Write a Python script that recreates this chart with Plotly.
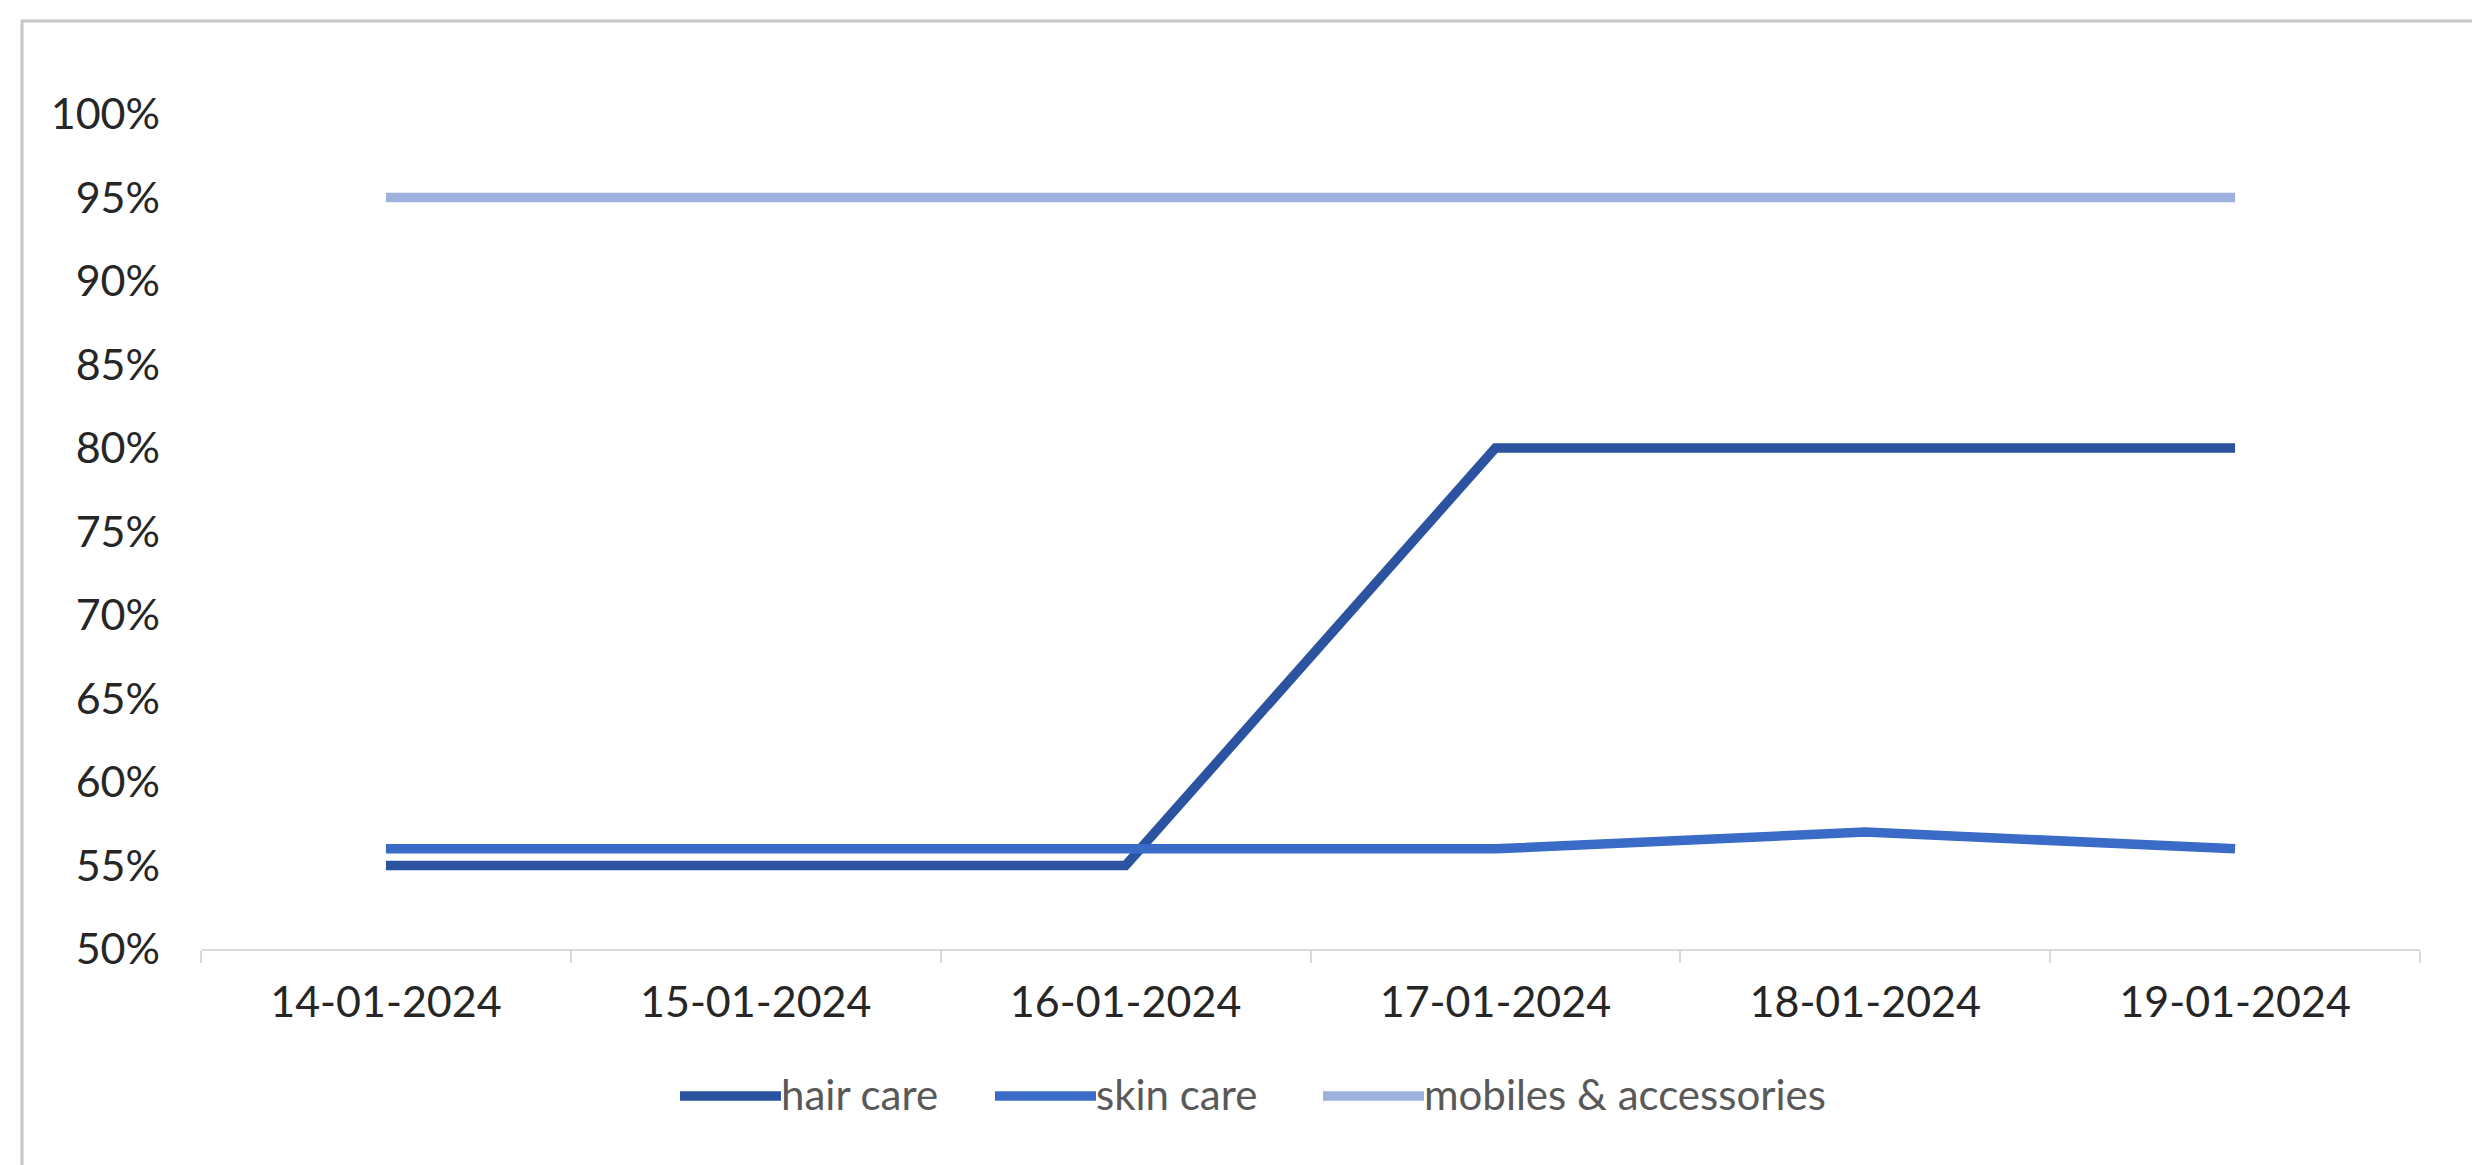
import plotly.graph_objects as go

dates = ["14-01-2024", "15-01-2024", "16-01-2024", "17-01-2024", "18-01-2024", "19-01-2024"]
hair_care = [0.55, 0.55, 0.55, 0.80, 0.80, 0.80]
skin_care = [0.56, 0.56, 0.56, 0.56, 0.57, 0.56]
mobiles_accessories = [0.95, 0.95, 0.95, 0.95, 0.95, 0.95]
y_ticks = [0.50, 0.55, 0.60, 0.65, 0.70, 0.75, 0.80, 0.85, 0.90, 0.95, 1.00]

series_names = ["hair care", "skin care", "mobiles & accessories"]
series_values = [hair_care, skin_care, mobiles_accessories]
series_colors = ["#2C539F", "#3A6BC7", "#9EB1DF"]

FONT = "Lato, 'Noto Sans', 'Liberation Sans', sans-serif"

W, H = 2480, 1165
L, R, T, B = 193, 68, 106, 224
ph = H - T - B
pw = W - L - R


def px_to_paper_x(px):
    return (px - L) / pw


def px_to_paper_y(py):
    return (H - B - py) / ph


fig = go.Figure()
for name, vals, color in zip(series_names, series_values, series_colors):
    fig.add_trace(go.Scatter(
        x=dates, y=vals, name=name, mode="lines",
        line=dict(color=color, width=9.5),
        showlegend=False,
    ))

# Custom legend (long line samples, as in the reference)
legend_y_px = 1088
legend_items_px = [(672, 773, 771), (987, 1088, 1086), (1315, 1416, 1414)]
shapes = []
annotations = []
for (lx0, lx1, tx), name, color in zip(legend_items_px, series_names, series_colors):
    shapes.append(dict(
        type="line", xref="paper", yref="paper",
        x0=px_to_paper_x(lx0), x1=px_to_paper_x(lx1),
        y0=px_to_paper_y(legend_y_px), y1=px_to_paper_y(legend_y_px),
        line=dict(color=color, width=9.5),
    ))
    annotations.append(dict(
        text=name, xref="paper", yref="paper",
        x=px_to_paper_x(tx), y=px_to_paper_y(legend_y_px - 2),
        xanchor="left", yanchor="middle", showarrow=False,
        font=dict(family=FONT, size=42, color="#595959"),
    ))

# outer chart frame
shapes.append(dict(
    type="rect", xref="paper", yref="paper",
    x0=px_to_paper_x(14), x1=px_to_paper_x(2473),
    y0=px_to_paper_y(1185), y1=px_to_paper_y(13),
    line=dict(color="#C6C6C6", width=3), fillcolor="rgba(0,0,0,0)",
    layer="below",
))

fig.update_layout(
    width=W, height=H,
    margin=dict(l=L, r=R, t=T, b=B, pad=0),
    paper_bgcolor="white", plot_bgcolor="white",
    font=dict(family=FONT, size=43, color="#262626"),
    showlegend=False,
    xaxis=dict(
        type="category", range=[-0.5, 5.5],
        showgrid=False, zeroline=False,
        showline=True, linecolor="#D9D9D9", linewidth=2,
        ticks="outside", ticklen=12, tickcolor="#D9D9D9", tickwidth=2,
        tickson="boundaries",
        tickfont=dict(family=FONT, size=43, color="#262626"),
        ticklabelstandoff=14,
    ),
    yaxis=dict(
        range=[0.5, 1.0], tickvals=y_ticks, tickformat=".0%",
        showgrid=False, zeroline=False, showline=False,
        ticks="", tickfont=dict(family=FONT, size=43, color="#262626"),
        ticklabelstandoff=40,
    ),
    shapes=shapes,
    annotations=annotations,
)

fig.write_html("out.html")
